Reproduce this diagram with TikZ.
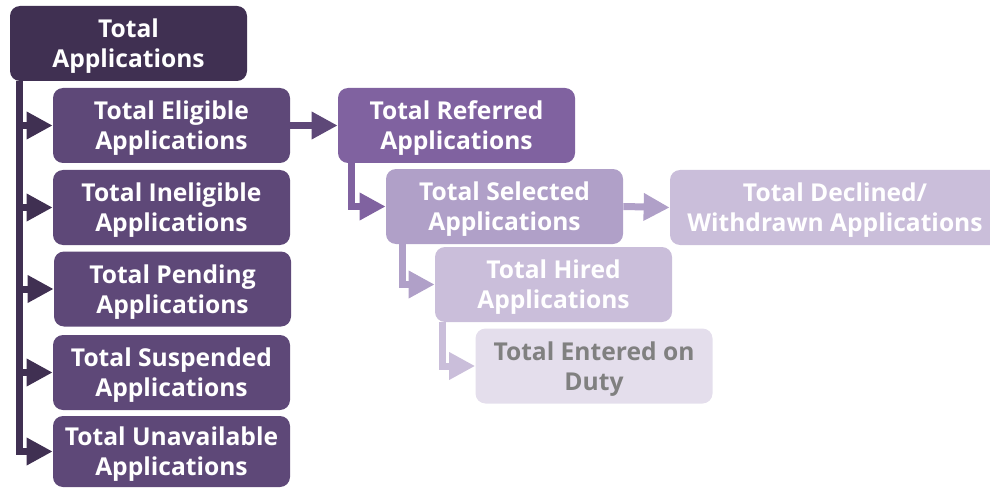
\documentclass[tikz,border=0pt]{standalone}
\usepackage{fontspec}
\setmainfont{Open Sans}
\usetikzlibrary{arrows.meta}
\definecolor{lvA}{RGB}{64,48,82}
\definecolor{lvB}{RGB}{94,72,120}
\definecolor{lvC}{RGB}{128,98,160}
\definecolor{lvD}{RGB}{176,160,200}
\definecolor{lvE}{RGB}{202,190,218}
\definecolor{lvF}{RGB}{228,222,236}
\begin{document}
\begin{tikzpicture}[
    box/.style={rounded corners=0.2cm, minimum width=4.74cm, minimum height=1.5cm,
      align=center, text=white, font=\fontsize{14}{17}\selectfont\bfseries, inner sep=0pt,
      text height=31pt},
    conn/.style={line width=0.14cm, draw=#1, -{Triangle[length=0.52cm,width=0.52cm]}}]
        \useasboundingbox (0,0) rectangle (19.8,-9.76);
        % level 1 and 2
        \node[box, fill=lvA] (total) at (2.57,-0.87) {Total\\Applications};
        \node[box, fill=lvB] (elig) at (3.43,-2.51) {Total Eligible\\Applications};
        \node[box, fill=lvB] (inel) at (3.43,-4.15) {Total Ineligible\\Applications};
        \node[box, fill=lvB] (pend) at (3.45,-5.78) {Total Pending\\Applications};
        \node[box, fill=lvB] (susp) at (3.43,-7.45) {Total Suspended\\Applications};
        \node[box, fill=lvB, minimum height=1.42cm] (unav) at (3.43,-9.03) {Total Unavailable\\Applications};
        % referred branch
        \node[box, fill=lvC] (refd) at (9.13,-2.51) {Total Referred\\Applications};
        \node[box, fill=lvD] (selc) at (10.09,-4.13) {Total Selected\\Applications};
        \node[box, fill=lvE, minimum width=6.6cm] (decl) at (16.7,-4.15) {Total Declined/\\Withdrawn Applications};
        \node[box, fill=lvE] (hire) at (11.07,-5.69) {Total Hired\\Applications};
        \node[box, fill=lvF, text=black!50] (eod) at (11.88,-7.32) {Total Entered on\\Duty};
        \draw[conn=lvA] ([xshift=0.2cm]total.south west) |- (elig.west);
        \draw[conn=lvA] ([xshift=0.2cm]total.south west) |- (inel.west);
        \draw[conn=lvA] ([xshift=0.2cm]total.south west) |- (pend.west);
        \draw[conn=lvA] ([xshift=0.2cm]total.south west) |- (susp.west);
        \draw[conn=lvA] ([xshift=0.2cm]total.south west) |- (unav.west);
        \draw[conn=lvB] (elig.east) -- (refd.west);
        \draw[conn=lvC] ([xshift=0.28cm]refd.south west) |- (selc.west);
        \draw[conn=lvD] (selc.east) -- (decl.west);
        \draw[conn=lvD] ([xshift=0.34cm]selc.south west) |- (hire.west);
        \draw[conn=lvE] ([xshift=0.15cm]hire.south west) |- (eod.west);
\end{tikzpicture}
\end{document}
